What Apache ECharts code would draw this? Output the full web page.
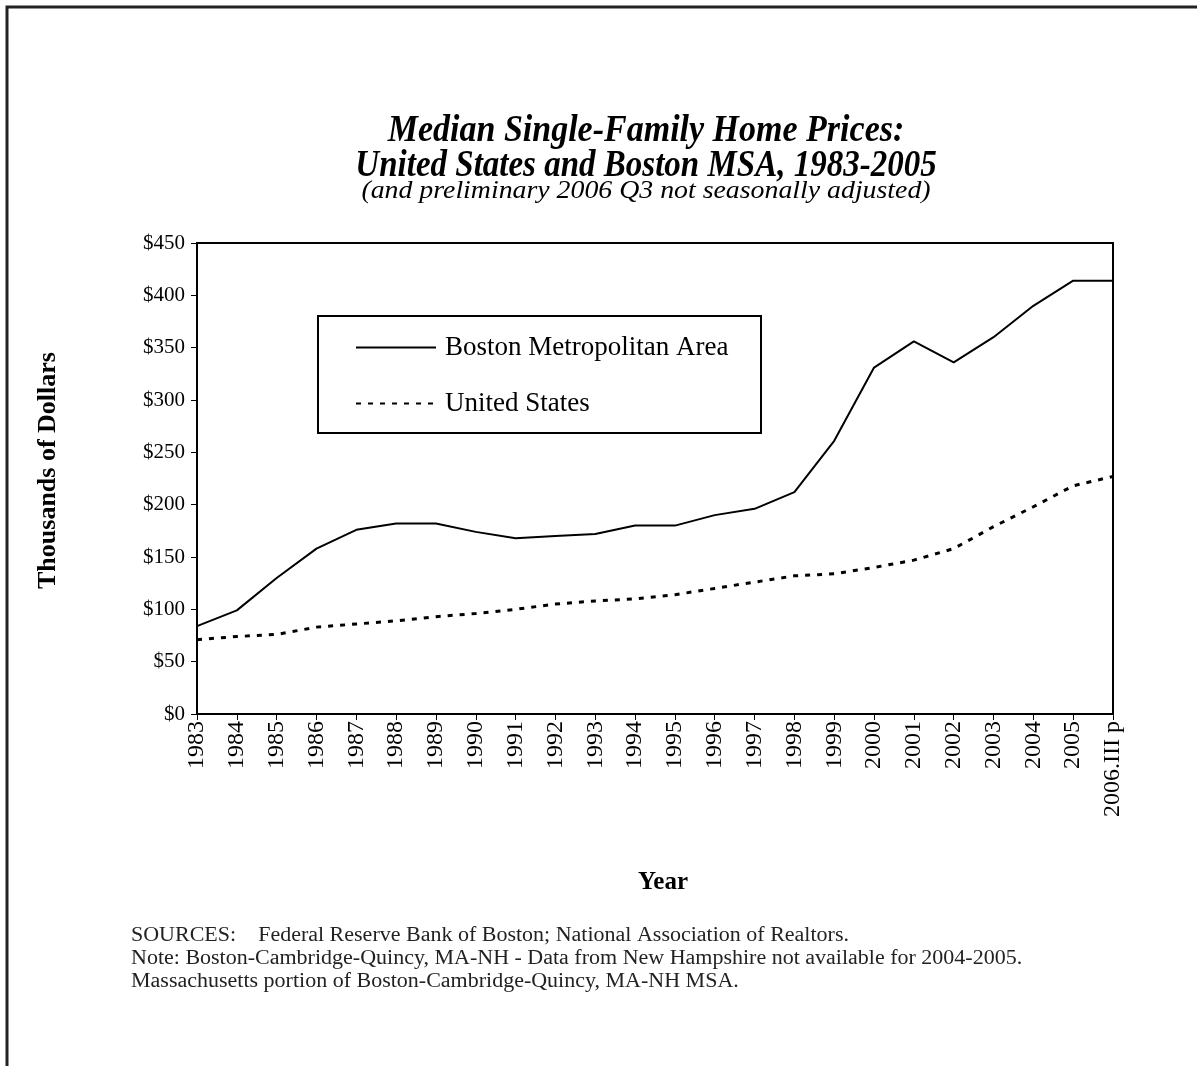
<!DOCTYPE html>
<html>
<head>
<meta charset="utf-8">
<script src="https://cdn.jsdelivr.net/npm/echarts@6/dist/echarts.min.js"></script>
<style>
    html, body { margin: 0; padding: 0; background: #fff; }
    #main { width: 1197px; height: 1066px; }
</style>
</head>
<body>
<div id="main"></div>
<script>
const FONT = '"Liberation Serif", "Times New Roman", serif'

const years = ['1983', '1984', '1985', '1986', '1987', '1988', '1989', '1990', '1991', '1992', '1993', '1994',
    '1995', '1996', '1997', '1998', '1999', '2000', '2001', '2002', '2003', '2004', '2005', '2006.III p']

// thousands of dollars
const boston = [84, 99, 130, 158, 176, 182, 182, 174, 168, 170, 172, 180,
    180, 190, 196, 212, 261, 331, 356, 336, 360, 390, 414, 414]
const unitedStates = [71, 74, 76, 83, 86, 89, 93, 96, 100, 105, 108, 110,
    114, 120, 126, 132, 134, 140, 147, 158, 179, 198, 218, 227]

const titleLines = [
    'Median Single-Family Home Prices:',
    'United States and Boston MSA, 1983-2005',
]
const subTitle = '(and preliminary 2006 Q3 not seasonally adjusted)'
const notes = [
    'SOURCES:    Federal Reserve Bank of Boston; National Association of Realtors.',
    'Note: Boston-Cambridge-Quincy, MA-NH - Data from New Hampshire not available for 2004-2005.',
    'Massachusetts portion of Boston-Cambridge-Quincy, MA-NH MSA.',
]

const chart = echarts.init(document.getElementById('main'))

/**
 * 居中的标题文字
 */
const centerText = (text, y, font, scaleX = 1, scaleY = 1) => ({
    type: 'text', x: 646, y, scaleX, scaleY,
    style: { text, align: 'center', verticalAlign: 'middle', font: font + ' ' + FONT, fill: '#000' },
})

const option = {
    backgroundColor: '#fff',
    animation: false,
    textStyle: { fontFamily: FONT, color: '#000' },
    grid: {
        left: 197, right: 84, top: 243, bottom: 352,
        show: true, borderColor: '#000', borderWidth: 2,
    },
    legend: {
        orient: 'vertical',
        left: 350, top: 329,
        itemWidth: 80, itemHeight: 14, itemGap: 29,
        itemStyle: { opacity: 0 },
        textStyle: { fontFamily: FONT, fontSize: 27, color: '#000', padding: [0, 0, 0, 4] },
        data: ['Boston Metropolitan Area', 'United States'],
    },
    xAxis: {
        type: 'category',
        data: years,
        boundaryGap: false,
        name: 'Year',
        nameLocation: 'middle',
        nameGap: 156,
        nameTextStyle: { fontFamily: FONT, fontSize: 25, fontWeight: 'bold', color: '#000', padding: [0, 0, 0, 16] },
        axisLine: { lineStyle: { color: '#000', width: 2 } },
        axisTick: { alignWithLabel: true, length: 6, lineStyle: { color: '#000', width: 1 } },
        axisLabel: { rotate: 90, fontFamily: FONT, fontSize: 24, color: '#000', margin: 7, interval: 0 },
    },
    yAxis: {
        type: 'value',
        min: 0, max: 450, interval: 50,
        name: 'Thousands of Dollars',
        nameLocation: 'middle',
        nameRotate: 90,
        nameGap: 136,
        nameTextStyle: { fontFamily: FONT, fontSize: 26, fontWeight: 'bold', color: '#000', padding: [0, 0, 0, 16] },
        axisLine: { show: true, lineStyle: { color: '#000', width: 2 } },
        axisTick: { show: true, length: 6, lineStyle: { color: '#000', width: 1 } },
        axisLabel: { fontFamily: FONT, fontSize: 21, color: '#000', margin: 12, formatter: v => '$' + v },
        splitLine: { show: false },
    },
    series: [
        {
            name: 'Boston Metropolitan Area',
            type: 'line',
            data: boston,
            symbol: 'none',
            lineStyle: { color: '#000', width: 2 },
            itemStyle: { color: '#000' },
        },
        {
            name: 'United States',
            type: 'line',
            data: unitedStates,
            symbol: 'none',
            lineStyle: { color: '#000', width: 3, type: [5, 7] },
            itemStyle: { color: '#000' },
        },
    ],
    graphic: [
        // 外框
        {
            type: 'rect', silent: true,
            shape: { x: 7, y: 7, width: 1260, height: 1160 },
            style: { fill: null, stroke: '#222', lineWidth: 3 },
        },
        // 图例边框
        {
            type: 'rect', silent: true,
            shape: { x: 318, y: 316, width: 443, height: 117 },
            style: { fill: null, stroke: '#000', lineWidth: 2 },
        },
        centerText(titleLines[0], 131, 'italic bold 34px', 1, 1.12),
        centerText(titleLines[1], 166, 'italic bold 33px', 1, 1.12),
        centerText(subTitle, 191, 'italic 26px', 1.07, 1),
        {
            type: 'text', x: 131, y: 924, scaleX: 1.1,
            style: {
                text: notes.join('\n'), align: 'left', verticalAlign: 'top',
                font: '20px ' + FONT, lineHeight: 23, fill: '#222',
            },
        },
    ],
}

chart.setOption(option)
window.addEventListener('resize', () => {
    chart.resize()
})
</script>
</body>
</html>
